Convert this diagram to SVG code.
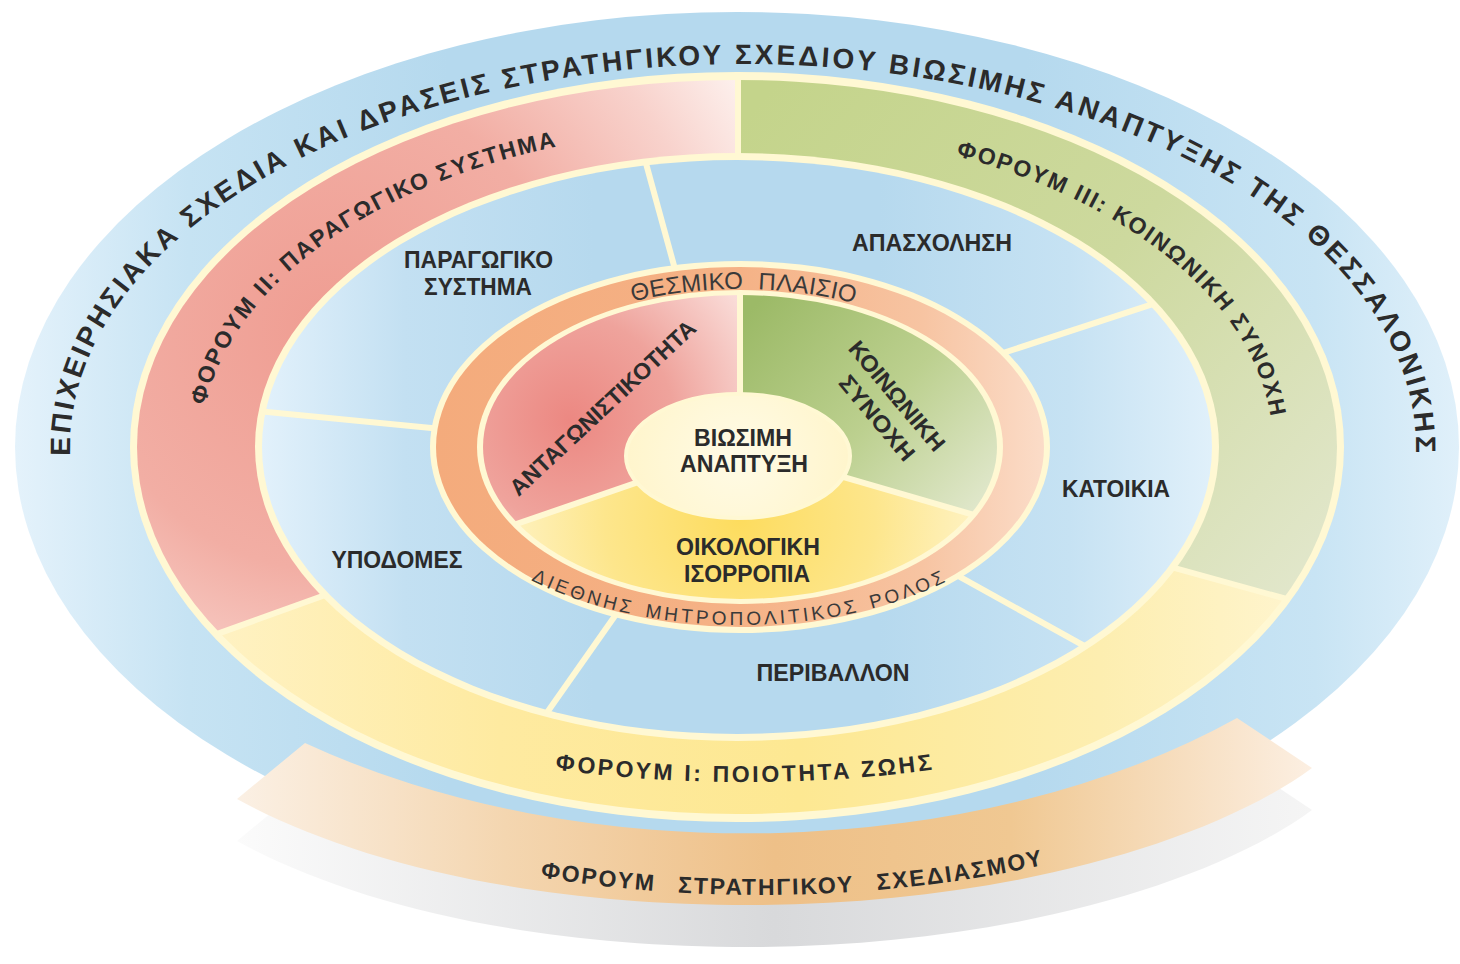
<svg xmlns="http://www.w3.org/2000/svg" width="1460" height="964" viewBox="0 0 1460 964">
<style>
text { font-family: 'Liberation Sans', Arial, sans-serif; fill: #2b2b2b; }
.lbl { font-size: 23px; font-weight: bold; text-anchor: middle; }
.arcb { font-weight: bold; }
.arcr { font-weight: normal; fill: #3a3a3a; }
.cream { fill: #fff8d3; }
.sep { stroke: #fff8d3; stroke-width: 6; fill: none; }
</style>
<defs>
<linearGradient id="gOuter" gradientUnits="userSpaceOnUse" x1="15" y1="0" x2="1460" y2="0">
<stop offset="0" stop-color="#e4f2fb"/><stop offset="0.12" stop-color="#c6e3f3"/><stop offset="0.3" stop-color="#b5d9ee"/><stop offset="0.7" stop-color="#b5d9ee"/><stop offset="0.9" stop-color="#c8e4f4"/><stop offset="1" stop-color="#e0f0fa"/>
</linearGradient>
<linearGradient id="gRibO" gradientUnits="userSpaceOnUse" x1="237" y1="0" x2="1312" y2="0">
<stop offset="0" stop-color="#fbf0e4"/><stop offset="0.25" stop-color="#f4d6b0"/><stop offset="0.5" stop-color="#eec088"/><stop offset="0.72" stop-color="#f0c892"/><stop offset="1" stop-color="#fcefe2"/>
</linearGradient>
<linearGradient id="gRibG" gradientUnits="userSpaceOnUse" x1="237" y1="0" x2="1312" y2="0">
<stop offset="0" stop-color="#fbfbfb"/><stop offset="0.5" stop-color="#d8d9db"/><stop offset="1" stop-color="#f5f5f5"/>
</linearGradient>
<radialGradient id="gRed" gradientUnits="userSpaceOnUse" cx="330" cy="330" r="480">
<stop offset="0" stop-color="#ef9d92"/><stop offset="0.5" stop-color="#f2aea4"/><stop offset="0.8" stop-color="#f8d2cc"/><stop offset="1" stop-color="#fdf1ee"/>
</radialGradient>
<linearGradient id="gGreen" gradientUnits="userSpaceOnUse" x1="760" y1="100" x2="1320" y2="580">
<stop offset="0" stop-color="#c4d48b"/><stop offset="0.5" stop-color="#cdd99e"/><stop offset="1" stop-color="#e2e7cc"/>
</linearGradient>
<linearGradient id="gYellow" gradientUnits="userSpaceOnUse" x1="140" y1="0" x2="1340" y2="0">
<stop offset="0" stop-color="#fff4cc"/><stop offset="0.3" stop-color="#feeaa0"/><stop offset="0.55" stop-color="#fde892"/><stop offset="0.8" stop-color="#fdeeb0"/><stop offset="1" stop-color="#fff6d4"/>
</linearGradient>
<linearGradient id="gBlue" gradientUnits="userSpaceOnUse" x1="262" y1="0" x2="1212" y2="0">
<stop offset="0" stop-color="#e2f1fb"/><stop offset="0.15" stop-color="#c3e0f2"/><stop offset="0.35" stop-color="#b6d9ee"/><stop offset="0.65" stop-color="#b6d9ee"/><stop offset="0.85" stop-color="#c6e2f3"/><stop offset="1" stop-color="#e0f0fa"/>
</linearGradient>
<linearGradient id="gOrange" gradientUnits="userSpaceOnUse" x1="436" y1="0" x2="1044" y2="0">
<stop offset="0" stop-color="#f4ab7c"/><stop offset="0.5" stop-color="#f5b286"/><stop offset="0.8" stop-color="#f7c4a2"/><stop offset="1" stop-color="#fbdcc8"/>
</linearGradient>
<radialGradient id="gPRed" gradientUnits="userSpaceOnUse" cx="570" cy="420" r="230">
<stop offset="0" stop-color="#ec8882"/><stop offset="0.45" stop-color="#efa39c"/><stop offset="1" stop-color="#fce9e6"/>
</radialGradient>
<linearGradient id="gPGreen" gradientUnits="userSpaceOnUse" x1="760" y1="300" x2="1000" y2="520">
<stop offset="0" stop-color="#9cba67"/><stop offset="0.5" stop-color="#bcd08f"/><stop offset="1" stop-color="#e6ebd5"/>
</linearGradient>
<radialGradient id="gPYellow" gradientUnits="userSpaceOnUse" cx="740" cy="520" r="270">
<stop offset="0" stop-color="#fddc5e"/><stop offset="0.5" stop-color="#fde68c"/><stop offset="1" stop-color="#fff6d4"/>
</radialGradient>
<radialGradient id="gCore" gradientUnits="userSpaceOnUse" cx="738" cy="456" r="112">
<stop offset="0" stop-color="#fffbe6"/><stop offset="1" stop-color="#fff5cc"/>
</radialGradient>
<clipPath id="clipForum"><ellipse cx="737" cy="447" rx="600" ry="367"/></clipPath>
<clipPath id="clipPillar"><ellipse cx="740" cy="447" rx="257" ry="152"/></clipPath>
<clipPath id="annForum"><path clip-rule="evenodd" d="M131,447 a606,373 0 1,0 1212,0 a606,373 0 1,0 -1212,0 Z M257,447 a480,292 0 1,0 960,0 a480,292 0 1,0 -960,0 Z"/></clipPath>
<clipPath id="annTheme"><path clip-rule="evenodd" d="M257,447 a480,292 0 1,0 960,0 a480,292 0 1,0 -960,0 Z M434,447 a306,182 0 1,0 612,0 a306,182 0 1,0 -612,0 Z"/></clipPath>
<clipPath id="annCore"><path clip-rule="evenodd" d="M481,447 a259,154 0 1,0 518,0 a259,154 0 1,0 -518,0 Z M626,456 a112,62 0 1,0 224,0 a112,62 0 1,0 -224,0 Z"/></clipPath>
<path id="pOuter" d="M70.15,455 A673,383 0 0 1 743,64 A673,383 0 0 1 1415.85,455"/>
<path id="pF2" d="M209.1,502.4 A536,319 0 0 1 737,128"/>
<path id="pF3" d="M737,128 A536,319 0 0 1 1264.9,502.4"/>
<path id="pF1" d="M445,749.7 A700,335 0 0 0 1045,749.7"/>
<path id="pFS" d="M420,850.9 A700,350 0 0 0 1100,850.9"/>
<path id="pTop" d="M560,327.5 A275,158 0 0 1 920,327.5"/>
<path id="pBot" d="M480,547.5 A315,178 0 0 0 1000,547.5"/>
<path id="ribbon" d="M305,743 A722,433 0 0 0 1237,718 L1312,768 C1200,850 980,905 750,905 C520,905 347,859 237,799 Z"/>
</defs>

<g id="outer-ring">
<ellipse cx="737" cy="447" rx="722" ry="435" fill="url(#gOuter)"/>
<text class="arcb" font-size="28" letter-spacing="3.0"><textPath href="#pOuter" startOffset="50%" text-anchor="middle">ΕΠΙΧΕΙΡΗΣΙΑΚΑ ΣΧΕΔΙΑ ΚΑΙ ΔΡΑΣΕΙΣ ΣΤΡΑΤΗΓΙΚΟΥ ΣΧΕΔΙΟΥ ΒΙΩΣΙΜΗΣ ΑΝΑΠΤΥΞΗΣ ΤΗΣ ΘΕΣΣΑΛΟΝΙΚΗΣ</textPath></text>
</g>

<g id="forum-strategic">
<use href="#ribbon" transform="translate(0,42)" fill="url(#gRibG)"/>
<use href="#ribbon" fill="url(#gRibO)"/>
<text class="arcb" font-size="23" letter-spacing="2" word-spacing="14"><textPath href="#pFS" startOffset="377" text-anchor="middle">ΦΟΡΟΥΜ ΣΤΡΑΤΗΓΙΚΟΥ ΣΧΕΔΙΑΣΜΟΥ</textPath></text>
</g>

<g id="forum-ring">
<ellipse class="cream" cx="737" cy="447" rx="607" ry="375"/>
</g>
<g id="forum-II">
<polygon clip-path="url(#clipForum)" points="737,447 737,0 0,0 0,712" fill="url(#gRed)"/>
<text class="arcb" font-size="23" letter-spacing="2"><textPath href="#pF2" startOffset="98">ΦΟΡΟΥΜ ΙΙ: ΠΑΡΑΓΩΓΙΚΟ ΣΥΣΤΗΜΑ</textPath></text>
</g>
<g id="forum-III">
<polygon clip-path="url(#clipForum)" points="737,447 737,0 1460,0 1460,647" fill="url(#gGreen)"/>
<text class="arcb" font-size="23" letter-spacing="2"><textPath href="#pF3" startOffset="221">ΦΟΡΟΥΜ ΙΙΙ: ΚΟΙΝΩΝΙΚΗ ΣΥΝΟΧΗ</textPath></text>
</g>
<g id="forum-I">
<polygon clip-path="url(#clipForum)" points="737,447 0,712 0,964 1460,964 1460,647" fill="url(#gYellow)"/>
<text class="arcb" font-size="23" letter-spacing="2.7"><textPath href="#pF1" startOffset="50%" text-anchor="middle">ΦΟΡΟΥΜ Ι: ΠΟΙΟΤΗΤΑ ΖΩΗΣ</textPath></text>
</g>

<g id="thematic-ring">
<ellipse class="cream" cx="737" cy="447" rx="482" ry="294"/>
<ellipse cx="737" cy="447" rx="475" ry="287" fill="url(#gBlue)"/>
</g>
<g id="node-paragogiko"><text class="lbl" x="478.5" y="268" textLength="149" lengthAdjust="spacingAndGlyphs">ΠΑΡΑΓΩΓΙΚΟ</text><text class="lbl" x="478" y="295" textLength="108" lengthAdjust="spacingAndGlyphs">ΣΥΣΤΗΜΑ</text></g>
<g id="node-apasxolisi"><text class="lbl" x="932" y="251" textLength="160" lengthAdjust="spacingAndGlyphs">ΑΠΑΣΧΟΛΗΣΗ</text></g>
<g id="node-katoikia"><text class="lbl" x="1116" y="497" textLength="108" lengthAdjust="spacingAndGlyphs">ΚΑΤΟΙΚΙΑ</text></g>
<g id="node-perivallon"><text class="lbl" x="833" y="681" textLength="153" lengthAdjust="spacingAndGlyphs">ΠΕΡΙΒΑΛΛΟΝ</text></g>
<g id="node-ypodomes"><text class="lbl" x="397" y="568" textLength="131" lengthAdjust="spacingAndGlyphs">ΥΠΟΔΟΜΕΣ</text></g>

<g id="framework-ring">
<ellipse class="cream" cx="740" cy="447" rx="310" ry="186"/>
<ellipse cx="740" cy="447" rx="304" ry="180" fill="url(#gOrange)"/>
<text class="arcr" font-size="24" letter-spacing="0.2" word-spacing="8"><textPath href="#pTop" startOffset="51%" text-anchor="middle">ΘΕΣΜΙΚΟ ΠΛΑΙΣΙΟ</textPath></text>
<text class="arcr" font-size="19" letter-spacing="3.3" word-spacing="3"><textPath href="#pBot" startOffset="50%" text-anchor="middle">ΔΙΕΘΝΗΣ ΜΗΤΡΟΠΟΛΙΤΙΚΟΣ ΡΟΛΟΣ</textPath></text>
<ellipse class="cream" cx="740" cy="447" rx="263" ry="157"/>
</g>

<g id="pillar-competitiveness">
<polygon clip-path="url(#clipPillar)" points="740,447 740,0 0,0 0,702" fill="url(#gPRed)"/>
<text class="lbl" font-size="25" transform="translate(602,407) rotate(-43)" x="0" y="9" textLength="245" lengthAdjust="spacingAndGlyphs">ΑΝΤΑΓΩΝΙΣΤΙΚΟΤΗΤΑ</text>
</g>
<g id="pillar-cohesion">
<polygon clip-path="url(#clipPillar)" points="740,447 740,0 1460,0 1460,656" fill="url(#gPGreen)"/>
<text class="lbl" transform="translate(897,396) rotate(50)" x="0" y="8" textLength="136" lengthAdjust="spacingAndGlyphs">ΚΟΙΝΩΝΙΚΗ</text>
<text class="lbl" transform="translate(877,418) rotate(50)" x="0" y="8" textLength="104" lengthAdjust="spacingAndGlyphs">ΣΥΝΟΧΗ</text>
</g>
<g id="pillar-ecology">
<polygon clip-path="url(#clipPillar)" points="740,447 0,702 0,964 1460,964 1460,656" fill="url(#gPYellow)"/>
<text class="lbl" x="748" y="555" textLength="144" lengthAdjust="spacingAndGlyphs">ΟΙΚΟΛΟΓΙΚΗ</text>
<text class="lbl" x="747" y="582" textLength="126" lengthAdjust="spacingAndGlyphs">ΙΣΟΡΡΟΠΙΑ</text>
</g>

<g id="core">
<ellipse cx="738" cy="456" rx="112" ry="62" fill="url(#gCore)" stroke="#fff8d3" stroke-width="4"/>
<text class="lbl" x="743" y="446" textLength="98" lengthAdjust="spacingAndGlyphs">ΒΙΩΣΙΜΗ</text>
<text class="lbl" x="744" y="472" textLength="128" lengthAdjust="spacingAndGlyphs">ΑΝΑΠΤΥΞΗ</text>
</g>

<g id="connectors">
<g clip-path="url(#annForum)">
<line class="sep" x1="738" y1="40" x2="738" y2="447"/>
<line class="sep" x1="737" y1="447" x2="0" y2="712"/>
<line class="sep" x1="737" y1="447" x2="1460" y2="647"/>
</g>
<g clip-path="url(#annTheme)">
<line class="sep" x1="630" y1="105" x2="690" y2="324"/>
<line class="sep" x1="943" y1="372.6" x2="1250" y2="272.3"/>
<line class="sep" x1="900" y1="543.6" x2="1150" y2="682.4"/>
<line class="sep" x1="640" y1="580.3" x2="520" y2="751"/>
<line class="sep" x1="200" y1="405.4" x2="480" y2="432.7"/>
</g>
<g clip-path="url(#annCore)">
<line class="sep" x1="740" y1="250" x2="740" y2="447"/>
<line class="sep" x1="740" y1="447" x2="0" y2="702"/>
<line class="sep" x1="740" y1="447" x2="1460" y2="656"/>
</g>
</g>
</svg>
